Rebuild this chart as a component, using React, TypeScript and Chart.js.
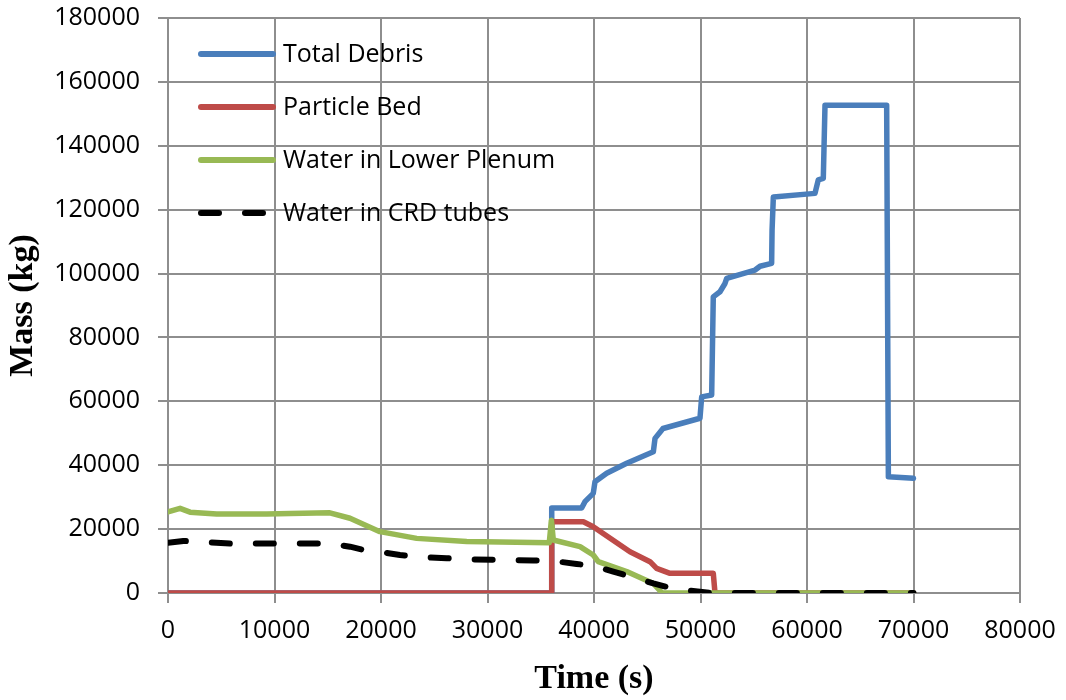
import React, { useEffect, useRef } from "react";
import { Chart, registerables } from "chart.js";

Chart.register(...registerables);

// ---- Data ----
const seriesLabels = ["Total Debris", "Particle Bed", "Water in Lower Plenum", "Water in CRD tubes"];

const debrisTime = [0, 36000, 36030, 38840, 39150, 39930, 40090, 41190, 43070, 45570, 45730, 46480, 49950, 50110, 51050, 51200, 51830, 52300, 52460, 55120, 55590, 56680, 56720, 56840, 60750, 61060, 61530, 61690, 67480, 67640, 70000];
const debrisMass = [0, 0, 26600, 26600, 28600, 31200, 34800, 37500, 40600, 44200, 48400, 51500, 54700, 61400, 62000, 92700, 94300, 96900, 98500, 101100, 102300, 103200, 113600, 124000, 125100, 129300, 129800, 152700, 152700, 36400, 35900];

const bedTime = [0, 36000, 36030, 39000, 39930, 43380, 45260, 45880, 47140, 51200, 51360, 70000];
const bedMass = [0, 0, 22300, 22300, 20750, 12900, 9800, 7700, 6150, 6150, 0, 0];

const plenumTime = [0, 1130, 2070, 4570, 9270, 11460, 15200, 17090, 19900, 23350, 28050, 35800, 36000, 36180, 38690, 39930, 40400, 43070, 45570, 46400, 70000];
const plenumMass = [25400, 26500, 25300, 24700, 24700, 24900, 25100, 23400, 19200, 17100, 16100, 15700, 22800, 16600, 14500, 11900, 9800, 6700, 3000, 0, 0];

const crdTime = [0, 1440, 5820, 15200, 17090, 18340, 19900, 21780, 23970, 26170, 28050, 34300, 36000, 38370, 39930, 41810, 45570, 47770, 49950, 51000, 70000];
const crdMass = [15700, 16300, 15500, 15500, 14500, 13500, 12900, 11900, 11200, 10900, 10500, 10200, 10100, 9100, 8500, 6700, 3000, 1100, 400, 0, 0];

const xMin = 0;
const xMax = 80000;
const xStep = 10000;
const yMin = 0;
const yMax = 180000;
const yStep = 20000;

const seriesColors = ["#4A7EBB", "#BE4B48", "#98B954", "#000000"];

function toPoints(t: number[], m: number[]) {
  return t.map((x, i) => ({ x, y: m[i] }));
}

const GRID = "#8e8e8e";
const SANS = '"Open Sans", "Liberation Sans", sans-serif';
const SERIF = '"Liberation Serif", "Times New Roman", serif';

export default function App() {
  const ref = useRef<HTMLCanvasElement>(null);

  useEffect(() => {
    document.body.style.margin = "0";
    const canvas = ref.current;
    if (!canvas) return;

    const insideLegend = {
      id: "insideLegend",
      afterDatasetsDraw(chart: any) {
        const { ctx, chartArea } = chart;
        ctx.save();
        chart.data.datasets.forEach((ds: any, i: number) => {
          const y = chartArea.top + 36 + i * 53;
          const x0 = chartArea.left + 33;
          ctx.strokeStyle = ds.borderColor;
          ctx.lineWidth = 6;
          ctx.lineCap = "round";
          ctx.setLineDash(ds.borderDash || []);
          ctx.beginPath();
          ctx.moveTo(x0, y);
          ctx.lineTo(x0 + 72, y);
          ctx.stroke();
          ctx.setLineDash([]);
          ctx.fillStyle = "#000";
          ctx.font = `25px ${SANS}`;
          ctx.textBaseline = "middle";
          ctx.textAlign = "left";
          ctx.fillText(ds.label, chartArea.left + 115, y + 1);
        });
        ctx.restore();
      },
    };

    const mk = (i: number, t: number[], m: number[], order: number, dash?: number[]) => ({
      label: seriesLabels[i],
      data: toPoints(t, m),
      borderColor: seriesColors[i],
      backgroundColor: seriesColors[i],
      borderWidth: i === 3 ? 6 : 5.5,
      pointRadius: 0,
      tension: 0,
      fill: false,
      borderJoinStyle: "round" as const,
      borderCapStyle: "round" as const,
      borderDash: dash,
      order,
    });

    const chart = new Chart(canvas, {
      type: "line",
      data: {
        datasets: [
          mk(0, debrisTime, debrisMass, 3),
          mk(1, bedTime, bedMass, 2),
          mk(2, plenumTime, plenumMass, 1),
          mk(3, crdTime, crdMass, 0, [18, 26]),
        ],
      },
      options: {
        animation: false,
        responsive: false,
        devicePixelRatio: 1,
        layout: { padding: { top: 18, right: 46, left: 0, bottom: 0 } },
        plugins: {
          legend: { display: false },
          tooltip: { enabled: false },
        },
        scales: {
          x: {
            type: "linear",
            min: xMin,
            max: xMax,
            ticks: {
              stepSize: xStep,
              autoSkip: false,
              maxRotation: 0,
              padding: 13,
              color: "#000",
              font: { family: SANS, size: 25 },
              callback: (v: any) => String(v),
            },
            grid: { color: GRID, lineWidth: 2, tickLength: 10, drawTicks: true },
            border: { color: GRID, width: 2 },
            title: {
              display: true,
              text: "Time (s)",
              color: "#000",
              font: { family: SERIF, size: 34, weight: "bold" },
              padding: { top: 4, bottom: 0 },
            },
            afterFit: (s: any) => {
              s.height = 107;
              s.paddingLeft = 0;
              s.paddingRight = 0;
            },
          },
          y: {
            type: "linear",
            min: yMin,
            max: yMax,
            ticks: {
              stepSize: yStep,
              padding: 18,
              color: "#000",
              font: { family: SANS, size: 25 },
              callback: (v: any) => String(v),
            },
            grid: { color: GRID, lineWidth: 2, tickLength: 10, drawTicks: true },
            border: { color: GRID, width: 2 },
            title: {
              display: true,
              text: "Mass (kg)",
              color: "#000",
              font: { family: SERIF, size: 34, weight: "bold" },
              padding: { top: 3, bottom: 0 },
            },
            afterFit: (s: any) => {
              s.width = 168;
              s.paddingTop = 0;
              s.paddingBottom = 0;
            },
          },
        },
      } as any,
      plugins: [insideLegend],
    });

    return () => chart.destroy();
  }, []);

  return (
    <div style={{ width: 1066, height: 700 }}>
      <canvas ref={ref} width={1066} height={700} style={{ display: "block", width: 1066, height: 700 }} />
    </div>
  );
}
